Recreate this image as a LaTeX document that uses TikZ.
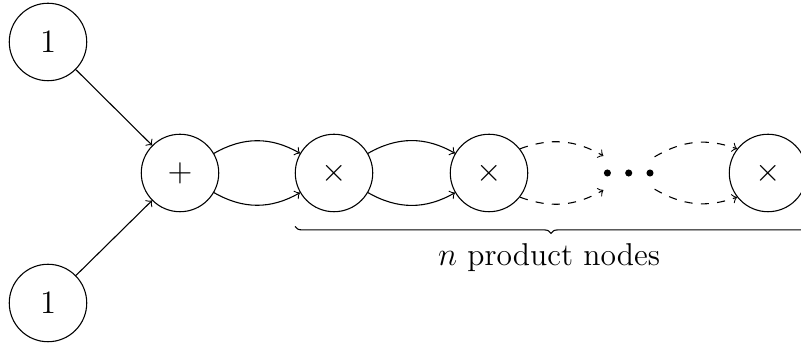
\documentclass[tikz,border=0pt]{standalone}
\usetikzlibrary{decorations.pathreplacing}
\begin{document}
\begin{tikzpicture}[x=0.0129032cm,y=-0.0129032cm,
  every node/.style={font=\fontsize{11.6}{14}\selectfont},
  opnode/.style={draw,circle,minimum size=1cm,inner sep=0pt},
  dotsnode/.style={circle,minimum size=0.774cm,inner sep=0pt},
  arr/.style={->}]
\useasboundingbox (0,0) rectangle (801,347);
\clip (0,0) rectangle (801,347);
\node[opnode] (one1) at (48,42) {$1$};
\node[opnode] (one2) at (48,303) {$1$};
\node[opnode] (plus) at (180,173) {$+$};
\node[opnode] (p1) at (334,173) {$\times$};
\node[opnode] (p2) at (489,173) {$\times$};
\node[dotsnode] (dots) at (628.7,173) {};
\node[opnode] (p3) at (768,173) {$\times$};
\fill (dots.center) ++(-21.3,0) circle (1.3pt);
\fill (dots.center) circle (1.3pt);
\fill (dots.center) ++(21.3,0) circle (1.3pt);
\draw[arr] (one1) -- (plus);
\draw[arr] (one2) -- (plus);
\draw[arr] (plus) to[bend left=30] (p1);
\draw[arr] (plus) to[bend right=30] (p1);
\draw[arr] (p1) to[bend left=30] (p2);
\draw[arr] (p1) to[bend right=30] (p2);
\draw[arr,dashed] (p2.38) to[bend left=25] (dots.146);
\draw[arr,dashed] (p2.-38) to[bend right=25] (dots.-146);
\draw[arr,dashed] (dots.32) to[bend left=25] (p3.142);
\draw[arr,dashed] (dots.-32) to[bend right=25] (p3.-142);
\coordinate (bl) at (295,226.5);
\coordinate (br) at (807,226.5);
\draw[decorate,decoration={brace,mirror,amplitude=2.5pt}] (bl) -- (br);
\node[anchor=base] (lbl) at (549,266) {$n$ product nodes};
\end{tikzpicture}
\end{document}
